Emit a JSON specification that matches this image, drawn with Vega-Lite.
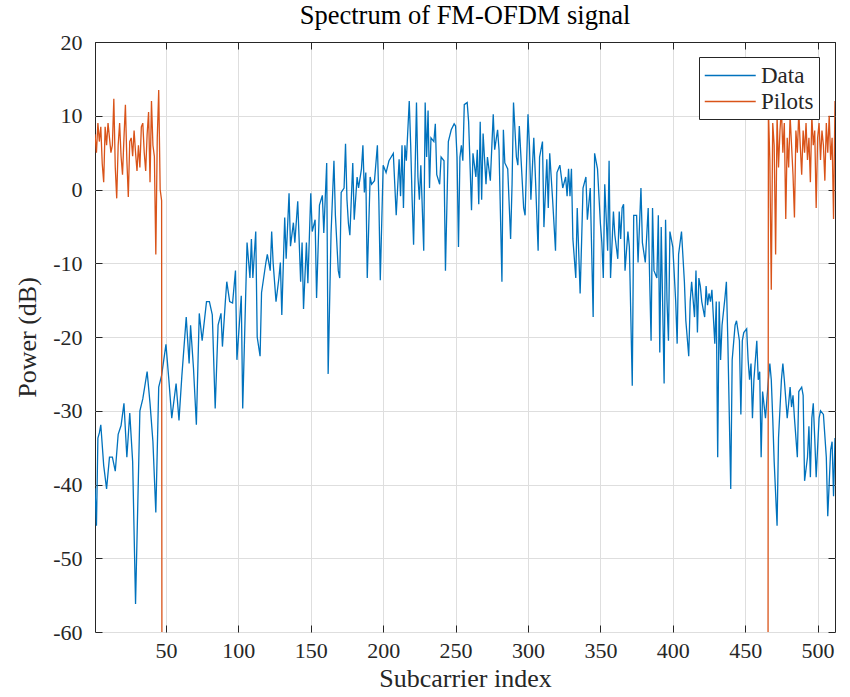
{
  "$schema": "https://vega.github.io/schema/vega-lite/v6.json",
  "width": 740,
  "height": 590,
  "autosize": {"type": "none"},
  "padding": {"left": 95, "top": 42, "right": 15, "bottom": 65},
  "background": "white",
  "config": {
    "view": {"stroke": "#262626", "strokeWidth": 1},
    "font": "Liberation Serif",
    "axis": {"labelFont": "Liberation Serif", "titleFont": "Liberation Serif", "labelColor": "#262626", "titleColor": "#262626", "domainColor": "#262626", "tickColor": "#262626", "gridColor": "#DEDEDE", "gridWidth": 1, "labelFontSize": 22, "titleFontSize": 26, "titleFontWeight": "normal"}
  },
  "title": {"text": "Spectrum of FM-OFDM signal", "fontSize": 26.5, "fontWeight": "normal", "font": "Liberation Serif", "color": "#000000", "offset": 2, "anchor": "middle"},
  "data": {"values": [
{"s":"Data","x":1,"y":-40.5},{"s":"Data","x":2,"y":-45.6},{"s":"Data","x":3,"y":-33.7},{"s":"Data","x":4,"y":-33},{"s":"Data","x":5,"y":-31.9},{"s":"Data","x":7,"y":-37.4},{"s":"Data","x":9,"y":-40.6},{"s":"Data","x":11,"y":-36.3},{"s":"Data","x":13,"y":-36.3},{"s":"Data","x":15,"y":-38.2},{"s":"Data","x":17,"y":-33.2},{"s":"Data","x":19,"y":-32},{"s":"Data","x":21,"y":-29},{"s":"Data","x":23,"y":-36.3},{"s":"Data","x":25,"y":-30.3},{"s":"Data","x":27,"y":-36.9},{"s":"Data","x":29,"y":-56.2},{"s":"Data","x":32,"y":-30},{"s":"Data","x":34,"y":-28.4},{"s":"Data","x":37,"y":-24.7},{"s":"Data","x":39,"y":-29},{"s":"Data","x":41,"y":-34.2},{"s":"Data","x":43,"y":-43.8},{"s":"Data","x":45,"y":-26.8},{"s":"Data","x":47,"y":-25.2},{"s":"Data","x":50,"y":-21},{"s":"Data","x":52,"y":-25.8},{"s":"Data","x":54,"y":-31},{"s":"Data","x":57,"y":-26.3},{"s":"Data","x":59,"y":-31.3},{"s":"Data","x":61,"y":-25.2},{"s":"Data","x":64,"y":-17.3},{"s":"Data","x":66,"y":-23.6},{"s":"Data","x":67,"y":-18.4},{"s":"Data","x":69,"y":-24.2},{"s":"Data","x":71,"y":-31.9},{"s":"Data","x":73,"y":-16.8},{"s":"Data","x":75,"y":-20.5},{"s":"Data","x":78,"y":-15.2},{"s":"Data","x":80,"y":-15.2},{"s":"Data","x":82,"y":-17},{"s":"Data","x":84,"y":-29.7},{"s":"Data","x":86,"y":-18.4},{"s":"Data","x":88,"y":-16.8},{"s":"Data","x":89,"y":-21.3},{"s":"Data","x":91,"y":-15.2},{"s":"Data","x":92,"y":-12.5},{"s":"Data","x":94,"y":-15.2},{"s":"Data","x":96,"y":-15.4},{"s":"Data","x":98,"y":-11},{"s":"Data","x":99,"y":-23.1},{"s":"Data","x":102,"y":-14.4},{"s":"Data","x":103,"y":-29.7},{"s":"Data","x":106,"y":-7.2},{"s":"Data","x":108,"y":-12},{"s":"Data","x":109,"y":-6.7},{"s":"Data","x":110,"y":-12},{"s":"Data","x":112,"y":-5.7},{"s":"Data","x":113,"y":-20},{"s":"Data","x":115,"y":-22.6},{"s":"Data","x":116,"y":-14},{"s":"Data","x":119,"y":-9.9},{"s":"Data","x":120,"y":-8.8},{"s":"Data","x":122,"y":-11},{"s":"Data","x":123,"y":-5.7},{"s":"Data","x":124,"y":-9.9},{"s":"Data","x":126,"y":-15.2},{"s":"Data","x":128,"y":-12},{"s":"Data","x":129,"y":-9.9},{"s":"Data","x":130,"y":-17},{"s":"Data","x":132,"y":-3.8},{"s":"Data","x":133,"y":-9.4},{"s":"Data","x":135,"y":-0.5},{"s":"Data","x":136,"y":-7.7},{"s":"Data","x":138,"y":-4.5},{"s":"Data","x":139,"y":-7.2},{"s":"Data","x":141,"y":-1.6},{"s":"Data","x":143,"y":-12.5},{"s":"Data","x":144,"y":-7.2},{"s":"Data","x":145,"y":-16.2},{"s":"Data","x":147,"y":-7.2},{"s":"Data","x":148,"y":-12.7},{"s":"Data","x":150,"y":-0.5},{"s":"Data","x":151,"y":-5.7},{"s":"Data","x":153,"y":-4.1},{"s":"Data","x":154,"y":-14.7},{"s":"Data","x":156,"y":-2.1},{"s":"Data","x":158,"y":-0.8},{"s":"Data","x":159,"y":-5.9},{"s":"Data","x":161,"y":3.6},{"s":"Data","x":162,"y":-25},{"s":"Data","x":164,"y":-6},{"s":"Data","x":166,"y":3.9},{"s":"Data","x":167,"y":-3.5},{"s":"Data","x":169,"y":-11},{"s":"Data","x":170,"y":-12},{"s":"Data","x":171,"y":-0.4},{"s":"Data","x":173,"y":0.2},{"s":"Data","x":174,"y":6.2},{"s":"Data","x":175,"y":-1.4},{"s":"Data","x":176,"y":-4.6},{"s":"Data","x":177,"y":-6.2},{"s":"Data","x":179,"y":3.6},{"s":"Data","x":180,"y":-4.1},{"s":"Data","x":182,"y":1.7},{"s":"Data","x":183,"y":0.2},{"s":"Data","x":185,"y":2.8},{"s":"Data","x":186,"y":6},{"s":"Data","x":187,"y":-0.4},{"s":"Data","x":188,"y":2.3},{"s":"Data","x":189,"y":-12},{"s":"Data","x":191,"y":1.7},{"s":"Data","x":192,"y":0.7},{"s":"Data","x":194,"y":1.2},{"s":"Data","x":196,"y":6},{"s":"Data","x":197,"y":-1.4},{"s":"Data","x":198,"y":-12.3},{"s":"Data","x":200,"y":3.3},{"s":"Data","x":202,"y":2.3},{"s":"Data","x":204,"y":3.9},{"s":"Data","x":207,"y":4.9},{"s":"Data","x":209,"y":-3.5},{"s":"Data","x":211,"y":4.1},{"s":"Data","x":212,"y":-0.9},{"s":"Data","x":213,"y":6},{"s":"Data","x":214,"y":-2.5},{"s":"Data","x":215,"y":6},{"s":"Data","x":216,"y":3.9},{"s":"Data","x":218,"y":12},{"s":"Data","x":219,"y":6},{"s":"Data","x":220,"y":-1.4},{"s":"Data","x":221,"y":-7.5},{"s":"Data","x":223,"y":11.8},{"s":"Data","x":224,"y":1.7},{"s":"Data","x":225,"y":-1.4},{"s":"Data","x":226,"y":3.3},{"s":"Data","x":228,"y":-8.3},{"s":"Data","x":229,"y":11.8},{"s":"Data","x":230,"y":4.4},{"s":"Data","x":231,"y":10.7},{"s":"Data","x":232,"y":0.2},{"s":"Data","x":233,"y":7},{"s":"Data","x":235,"y":6.5},{"s":"Data","x":236,"y":8.9},{"s":"Data","x":237,"y":2},{"s":"Data","x":239,"y":0.7},{"s":"Data","x":240,"y":4.4},{"s":"Data","x":242,"y":3.9},{"s":"Data","x":243,"y":-11},{"s":"Data","x":245,"y":6.5},{"s":"Data","x":247,"y":8.1},{"s":"Data","x":249,"y":8.9},{"s":"Data","x":250,"y":8.6},{"s":"Data","x":251,"y":4.4},{"s":"Data","x":252,"y":-7.8},{"s":"Data","x":253,"y":4.4},{"s":"Data","x":254,"y":6},{"s":"Data","x":255,"y":3.9},{"s":"Data","x":256,"y":11.5},{"s":"Data","x":258,"y":11.8},{"s":"Data","x":259,"y":9.2},{"s":"Data","x":261,"y":-2.8},{"s":"Data","x":262,"y":4.9},{"s":"Data","x":264,"y":1.7},{"s":"Data","x":265,"y":5.4},{"s":"Data","x":266,"y":-2},{"s":"Data","x":267,"y":9.2},{"s":"Data","x":268,"y":-1.4},{"s":"Data","x":269,"y":7.6},{"s":"Data","x":271,"y":0.7},{"s":"Data","x":272,"y":4.4},{"s":"Data","x":274,"y":1.2},{"s":"Data","x":276,"y":10.2},{"s":"Data","x":277,"y":5.4},{"s":"Data","x":279,"y":8.1},{"s":"Data","x":280,"y":5.4},{"s":"Data","x":282,"y":-12.5},{"s":"Data","x":283,"y":8.1},{"s":"Data","x":284,"y":3.6},{"s":"Data","x":286,"y":2.8},{"s":"Data","x":288,"y":-6.7},{"s":"Data","x":289,"y":0.7},{"s":"Data","x":290,"y":11.8},{"s":"Data","x":292,"y":4.4},{"s":"Data","x":293,"y":3.3},{"s":"Data","x":294,"y":8.6},{"s":"Data","x":295,"y":4.9},{"s":"Data","x":297,"y":-2.5},{"s":"Data","x":298,"y":-3.5},{"s":"Data","x":300,"y":10.2},{"s":"Data","x":301,"y":6},{"s":"Data","x":302,"y":-1.4},{"s":"Data","x":304,"y":7},{"s":"Data","x":305,"y":2.3},{"s":"Data","x":307,"y":-8.3},{"s":"Data","x":308,"y":4.4},{"s":"Data","x":310,"y":6.5},{"s":"Data","x":311,"y":-5.1},{"s":"Data","x":313,"y":4.1},{"s":"Data","x":314,"y":-2.5},{"s":"Data","x":315,"y":4.9},{"s":"Data","x":317,"y":-1.4},{"s":"Data","x":319,"y":-8.3},{"s":"Data","x":320,"y":2.3},{"s":"Data","x":322,"y":3.3},{"s":"Data","x":324,"y":0.2},{"s":"Data","x":326,"y":1.7},{"s":"Data","x":327,"y":-0.9},{"s":"Data","x":328,"y":2.8},{"s":"Data","x":329,"y":-0.9},{"s":"Data","x":330,"y":2.8},{"s":"Data","x":331,"y":-6.7},{"s":"Data","x":333,"y":-12},{"s":"Data","x":334,"y":-2.5},{"s":"Data","x":336,"y":-14.1},{"s":"Data","x":337,"y":-7.2},{"s":"Data","x":338,"y":0.2},{"s":"Data","x":340,"y":1.7},{"s":"Data","x":341,"y":-4.1},{"s":"Data","x":343,"y":0.2},{"s":"Data","x":345,"y":-17.3},{"s":"Data","x":346,"y":4.9},{"s":"Data","x":348,"y":2.8},{"s":"Data","x":350,"y":-4.6},{"s":"Data","x":351,"y":-7.2},{"s":"Data","x":352,"y":-12},{"s":"Data","x":353,"y":0.7},{"s":"Data","x":355,"y":-8.3},{"s":"Data","x":356,"y":3.9},{"s":"Data","x":357,"y":-12},{"s":"Data","x":359,"y":-3},{"s":"Data","x":360,"y":-6.2},{"s":"Data","x":362,"y":-9.4},{"s":"Data","x":363,"y":-3},{"s":"Data","x":364,"y":-6.7},{"s":"Data","x":365,"y":-2.5},{"s":"Data","x":366,"y":-2},{"s":"Data","x":367,"y":-11},{"s":"Data","x":369,"y":-5.7},{"s":"Data","x":370,"y":-7.8},{"s":"Data","x":372,"y":-26.6},{"s":"Data","x":373,"y":-3.5},{"s":"Data","x":375,"y":-3.5},{"s":"Data","x":376,"y":-9.9},{"s":"Data","x":378,"y":0.2},{"s":"Data","x":379,"y":-7.2},{"s":"Data","x":381,"y":-9.9},{"s":"Data","x":383,"y":-2.5},{"s":"Data","x":384,"y":-12},{"s":"Data","x":385,"y":-20.5},{"s":"Data","x":386,"y":-2.5},{"s":"Data","x":387,"y":-11},{"s":"Data","x":389,"y":-12},{"s":"Data","x":390,"y":-3.5},{"s":"Data","x":391,"y":-22.1},{"s":"Data","x":392,"y":-5.1},{"s":"Data","x":394,"y":-26.3},{"s":"Data","x":395,"y":-4.1},{"s":"Data","x":396,"y":-15.2},{"s":"Data","x":397,"y":-20.5},{"s":"Data","x":398,"y":-5.7},{"s":"Data","x":400,"y":-7.8},{"s":"Data","x":402,"y":-15.2},{"s":"Data","x":403,"y":-20.9},{"s":"Data","x":404,"y":-8.8},{"s":"Data","x":406,"y":-5.7},{"s":"Data","x":408,"y":-12.5},{"s":"Data","x":409,"y":-17.8},{"s":"Data","x":411,"y":-22.6},{"s":"Data","x":412,"y":-15.2},{"s":"Data","x":413,"y":-12.5},{"s":"Data","x":415,"y":-17.3},{"s":"Data","x":416,"y":-11},{"s":"Data","x":417,"y":-19.4},{"s":"Data","x":418,"y":-12},{"s":"Data","x":419,"y":-13.1},{"s":"Data","x":420,"y":-15.2},{"s":"Data","x":422,"y":-17.3},{"s":"Data","x":423,"y":-13.1},{"s":"Data","x":424,"y":-15.7},{"s":"Data","x":425,"y":-14.1},{"s":"Data","x":426,"y":-15.2},{"s":"Data","x":427,"y":-13.6},{"s":"Data","x":429,"y":-20.9},{"s":"Data","x":430,"y":-15.2},{"s":"Data","x":431,"y":-36.3},{"s":"Data","x":432,"y":-15.2},{"s":"Data","x":433,"y":-23.1},{"s":"Data","x":434,"y":-18.4},{"s":"Data","x":436,"y":-14.7},{"s":"Data","x":437,"y":-12.5},{"s":"Data","x":438,"y":-20.5},{"s":"Data","x":440,"y":-40.6},{"s":"Data","x":441,"y":-23.1},{"s":"Data","x":443,"y":-18.4},{"s":"Data","x":444,"y":-17.8},{"s":"Data","x":446,"y":-20.5},{"s":"Data","x":447,"y":-30.5},{"s":"Data","x":448,"y":-20.5},{"s":"Data","x":449,"y":-19.4},{"s":"Data","x":451,"y":-18.9},{"s":"Data","x":452,"y":-23.1},{"s":"Data","x":453,"y":-25.8},{"s":"Data","x":454,"y":-23.6},{"s":"Data","x":455,"y":-31},{"s":"Data","x":456,"y":-25.8},{"s":"Data","x":458,"y":-20.5},{"s":"Data","x":459,"y":-25.8},{"s":"Data","x":460,"y":-24.7},{"s":"Data","x":461,"y":-36.3},{"s":"Data","x":462,"y":-27.4},{"s":"Data","x":464,"y":-31},{"s":"Data","x":465,"y":-28.4},{"s":"Data","x":466,"y":-25.8},{"s":"Data","x":467,"y":-23.6},{"s":"Data","x":468,"y":-25.8},{"s":"Data","x":469,"y":-31},{"s":"Data","x":470,"y":-36.9},{"s":"Data","x":472,"y":-45.6},{"s":"Data","x":473,"y":-33.7},{"s":"Data","x":475,"y":-25.8},{"s":"Data","x":476,"y":-23.6},{"s":"Data","x":477,"y":-25.8},{"s":"Data","x":479,"y":-31},{"s":"Data","x":480,"y":-29},{"s":"Data","x":481,"y":-26.8},{"s":"Data","x":482,"y":-29.5},{"s":"Data","x":483,"y":-27.9},{"s":"Data","x":484,"y":-31},{"s":"Data","x":486,"y":-36.3},{"s":"Data","x":487,"y":-27.4},{"s":"Data","x":489,"y":-26.8},{"s":"Data","x":490,"y":-27.9},{"s":"Data","x":491,"y":-39.5},{"s":"Data","x":493,"y":-36.3},{"s":"Data","x":494,"y":-32.1},{"s":"Data","x":495,"y":-39},{"s":"Data","x":496,"y":-31},{"s":"Data","x":497,"y":-29},{"s":"Data","x":498,"y":-33.7},{"s":"Data","x":499,"y":-39},{"s":"Data","x":501,"y":-31},{"s":"Data","x":502,"y":-30},{"s":"Data","x":504,"y":-30.5},{"s":"Data","x":506,"y":-36.3},{"s":"Data","x":507,"y":-44.3},{"s":"Data","x":509,"y":-35.3},{"s":"Data","x":510,"y":-34.2},{"s":"Data","x":511,"y":-41.6},{"s":"Data","x":512,"y":-33.7},
{"s":"Pilots","x":1,"y":7.5},{"s":"Pilots","x":2,"y":5},{"s":"Pilots","x":3,"y":9},{"s":"Pilots","x":4,"y":6.5},{"s":"Pilots","x":5,"y":8.5},{"s":"Pilots","x":6,"y":3.5},{"s":"Pilots","x":7,"y":1},{"s":"Pilots","x":8,"y":8.5},{"s":"Pilots","x":9,"y":6},{"s":"Pilots","x":10,"y":9},{"s":"Pilots","x":11,"y":7},{"s":"Pilots","x":12,"y":5},{"s":"Pilots","x":13,"y":6},{"s":"Pilots","x":14,"y":12.3},{"s":"Pilots","x":15,"y":3},{"s":"Pilots","x":16,"y":-1.2},{"s":"Pilots","x":17,"y":6},{"s":"Pilots","x":18,"y":9},{"s":"Pilots","x":19,"y":4.5},{"s":"Pilots","x":20,"y":2},{"s":"Pilots","x":21,"y":7},{"s":"Pilots","x":22,"y":11.5},{"s":"Pilots","x":23,"y":4},{"s":"Pilots","x":24,"y":-1},{"s":"Pilots","x":25,"y":6.5},{"s":"Pilots","x":26,"y":7},{"s":"Pilots","x":27,"y":4.5},{"s":"Pilots","x":28,"y":8},{"s":"Pilots","x":29,"y":5},{"s":"Pilots","x":30,"y":2.5},{"s":"Pilots","x":31,"y":6},{"s":"Pilots","x":32,"y":3},{"s":"Pilots","x":33,"y":8.5},{"s":"Pilots","x":34,"y":9},{"s":"Pilots","x":35,"y":5},{"s":"Pilots","x":36,"y":2.5},{"s":"Pilots","x":37,"y":7.5},{"s":"Pilots","x":38,"y":10.5},{"s":"Pilots","x":39,"y":1},{"s":"Pilots","x":40,"y":12},{"s":"Pilots","x":41,"y":6},{"s":"Pilots","x":42,"y":4.5},{"s":"Pilots","x":43,"y":-8.8},{"s":"Pilots","x":44,"y":7},{"s":"Pilots","x":45,"y":13.5},{"s":"Pilots","x":46,"y":0},{"s":"Pilots","x":47,"y":-1.5},{"s":"Pilots","x":48,"y":-300},
{"s":"Pilots","x":465,"y":-300},{"s":"Pilots","x":466,"y":11},{"s":"Pilots","x":467,"y":4},{"s":"Pilots","x":468,"y":-13.6},{"s":"Pilots","x":469,"y":9},{"s":"Pilots","x":470,"y":6},{"s":"Pilots","x":471,"y":-8.8},{"s":"Pilots","x":472,"y":10},{"s":"Pilots","x":473,"y":3},{"s":"Pilots","x":474,"y":8},{"s":"Pilots","x":475,"y":11},{"s":"Pilots","x":476,"y":5},{"s":"Pilots","x":477,"y":9},{"s":"Pilots","x":478,"y":-4},{"s":"Pilots","x":479,"y":7},{"s":"Pilots","x":480,"y":3},{"s":"Pilots","x":481,"y":10},{"s":"Pilots","x":482,"y":6},{"s":"Pilots","x":483,"y":2},{"s":"Pilots","x":484,"y":-3.8},{"s":"Pilots","x":485,"y":8},{"s":"Pilots","x":486,"y":5},{"s":"Pilots","x":487,"y":10.5},{"s":"Pilots","x":488,"y":6},{"s":"Pilots","x":489,"y":2},{"s":"Pilots","x":490,"y":8},{"s":"Pilots","x":491,"y":5},{"s":"Pilots","x":492,"y":9},{"s":"Pilots","x":493,"y":4},{"s":"Pilots","x":494,"y":7},{"s":"Pilots","x":495,"y":1},{"s":"Pilots","x":496,"y":10},{"s":"Pilots","x":497,"y":6},{"s":"Pilots","x":498,"y":8},{"s":"Pilots","x":499,"y":-2.5},{"s":"Pilots","x":500,"y":7},{"s":"Pilots","x":501,"y":9},{"s":"Pilots","x":502,"y":4},{"s":"Pilots","x":503,"y":8},{"s":"Pilots","x":504,"y":6},{"s":"Pilots","x":505,"y":1.2},{"s":"Pilots","x":506,"y":9},{"s":"Pilots","x":507,"y":5},{"s":"Pilots","x":508,"y":10},{"s":"Pilots","x":509,"y":4},{"s":"Pilots","x":510,"y":7},{"s":"Pilots","x":511,"y":-4},{"s":"Pilots","x":512,"y":12}
  ]},
  "layer": [
    {
      "mark": {"type": "line", "strokeWidth": 1.3, "clip": true},
      "encoding": {
        "x": {"field": "x", "type": "quantitative", "scale": {"domain": [1, 512], "nice": false, "zero": false},
              "axis": {"title": "Subcarrier index", "orient": "bottom", "values": [50,100,150,200,250,300,350,400,450,500], "grid": true, "offset": -7, "tickSize": 7, "labelPadding": 8, "titlePadding": 4, "domain": false, "labelExpr": "'' + datum.value"}},
        "y": {"field": "y", "type": "quantitative", "scale": {"domain": [-60, 20], "nice": false, "zero": false},
              "axis": {"title": "Power (dB)", "orient": "left", "values": [-60,-50,-40,-30,-20,-10,0,10,20], "grid": true, "gridColor": {"condition": {"test": "datum.value == 20", "value": "#262626"}, "value": "#DEDEDE"}, "offset": -7, "tickSize": 7, "labelPadding": 13, "titlePadding": 12, "domain": false, "labelExpr": "'' + datum.value"}},
        "color": {"field": "s", "type": "nominal", "sort": ["Data", "Pilots"],
                  "scale": {"domain": ["Data", "Pilots"], "range": ["#0072BD", "#D95319"]},
                  "legend": {"title": null, "orient": "none", "legendX": 604, "legendY": 15, "symbolType": "M-1,0H3", "symbolSize": 650, "symbolStrokeWidth": 1.5, "symbolFillColor": "transparent", "labelFontSize": 23, "labelFont": "Liberation Serif", "labelColor": "#262626", "strokeColor": "#262626", "fillColor": "white", "padding": 5, "rowPadding": -1, "labelOffset": 30, "cornerRadius": 0}}
      }
    },
    {
      "data": {"values": [{"x": 1, "y": -60}]},
      "mark": {"type": "point", "opacity": 0},
      "encoding": {
        "x": {"field": "x", "type": "quantitative", "axis": {"orient": "top", "title": null, "values": [50,100,150,200,250,300,350,400,450,500], "labels": false, "grid": false, "domain": false, "offset": -7, "tickSize": 7}},
        "y": {"field": "y", "type": "quantitative", "axis": {"orient": "right", "title": null, "values": [-60,-50,-40,-30,-20,-10,0,10,20], "labels": false, "grid": false, "domain": false, "offset": -7, "tickSize": 7}}
      }
    }
  ],
  "resolve": {"axis": {"x": "independent", "y": "independent"}}
}
